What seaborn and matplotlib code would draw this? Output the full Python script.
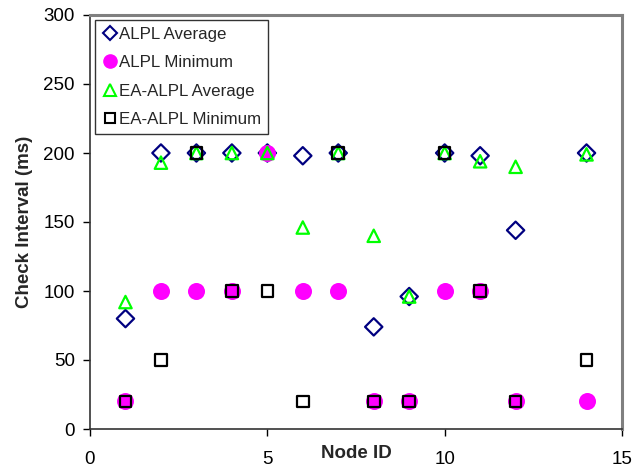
import matplotlib
matplotlib.use("Agg")
import matplotlib.pyplot as plt
import seaborn as sns
from matplotlib.lines import Line2D

nodes = [1, 2, 3, 4, 5, 6, 7, 8, 9, 10, 11, 12, 14]
alpl_avg = [80, 200, 200, 200, 200, 198, 200, 74, 96, 200, 198, 144, 200]
alpl_min = [20, 100, 100, 100, 200, 100, 100, 20, 20, 100, 100, 20, 20]
ea_avg = [92, 193, 200, 200, 200, 146, 200, 140, 96, 200, 194, 190, 199]
ea_min = [20, 50, 200, 100, 100, 20, 200, 20, 20, 200, 100, 20, 50]

series_names = ["ALPL Average", "ALPL Minimum", "EA-ALPL Average", "EA-ALPL Minimum"]
x_ticks = [0, 5, 10, 15]
y_ticks = [0, 50, 100, 150, 200, 250, 300]

sns.set_style("white")
plt.rcParams['font.family'] = ['Liberation Sans', 'DejaVu Sans']

fig = plt.figure(figsize=(6.42, 4.70), dpi=100)
ax = fig.add_axes([90/642, 1-429/470, (622-90)/642, (429-15)/470])

styles = [
    (alpl_avg, dict(marker="D", s=78, facecolor="none", edgecolor="#000080", linewidth=1.6)),
    (alpl_min, dict(marker="o", s=150, facecolor="#FF00FF", edgecolor="#FF00FF", linewidth=0)),
    (ea_avg, dict(marker="^", s=80, facecolor="none", edgecolor="#00FF00", linewidth=1.6)),
    (ea_min, dict(marker="s", s=70, facecolor="none", edgecolor="black", linewidth=1.6)),
]
for vals, st in styles:
    sns.scatterplot(x=nodes, y=vals, ax=ax, legend=False, zorder=3, **st)

ax.set_xlim(0, 15)
ax.set_ylim(0, 300)
ax.set_xticks(x_ticks)
ax.set_yticks(y_ticks)
ax.tick_params(axis='both', direction='out', length=5, width=1, colors='black', labelsize=13.5)
ax.tick_params(axis='x', pad=11, bottom=True)
ax.tick_params(axis='y', pad=6, left=True)

for side in ['left', 'bottom']:
    ax.spines[side].set_color('#333333')
    ax.spines[side].set_linewidth(1.2)
for side in ['top', 'right']:
    ax.spines[side].set_visible(True)
    ax.spines[side].set_color('#808080')
    ax.spines[side].set_linewidth(2.2)

ax.set_ylabel("Check Interval (ms)", fontsize=13.5, fontweight='bold', labelpad=7)
ax.set_xlabel("Node ID", fontsize=13.5, fontweight='bold', labelpad=-16.5)

handles = [
    Line2D([], [], marker="D", linestyle="none", markersize=7, markerfacecolor="none",
           markeredgecolor="#000080", markeredgewidth=1.5),
    Line2D([], [], marker="o", linestyle="none", markersize=9.5, markerfacecolor="#FF00FF",
           markeredgecolor="#FF00FF"),
    Line2D([], [], marker="^", linestyle="none", markersize=8.5, markerfacecolor="none",
           markeredgecolor="#00FF00", markeredgewidth=1.5),
    Line2D([], [], marker="s", linestyle="none", markersize=7.5, markerfacecolor="none",
           markeredgecolor="black", markeredgewidth=1.5),
]
leg = ax.legend(handles, series_names, loc="upper left", bbox_to_anchor=(0.009, 0.988),
                fontsize=12.2, frameon=True, fancybox=False, edgecolor="black",
                handletextpad=0.05, handlelength=1.0, labelspacing=0.8,
                borderpad=0.4, borderaxespad=0.0)
leg.get_frame().set_linewidth(1.0)

fig.savefig("out.png", dpi=100)
